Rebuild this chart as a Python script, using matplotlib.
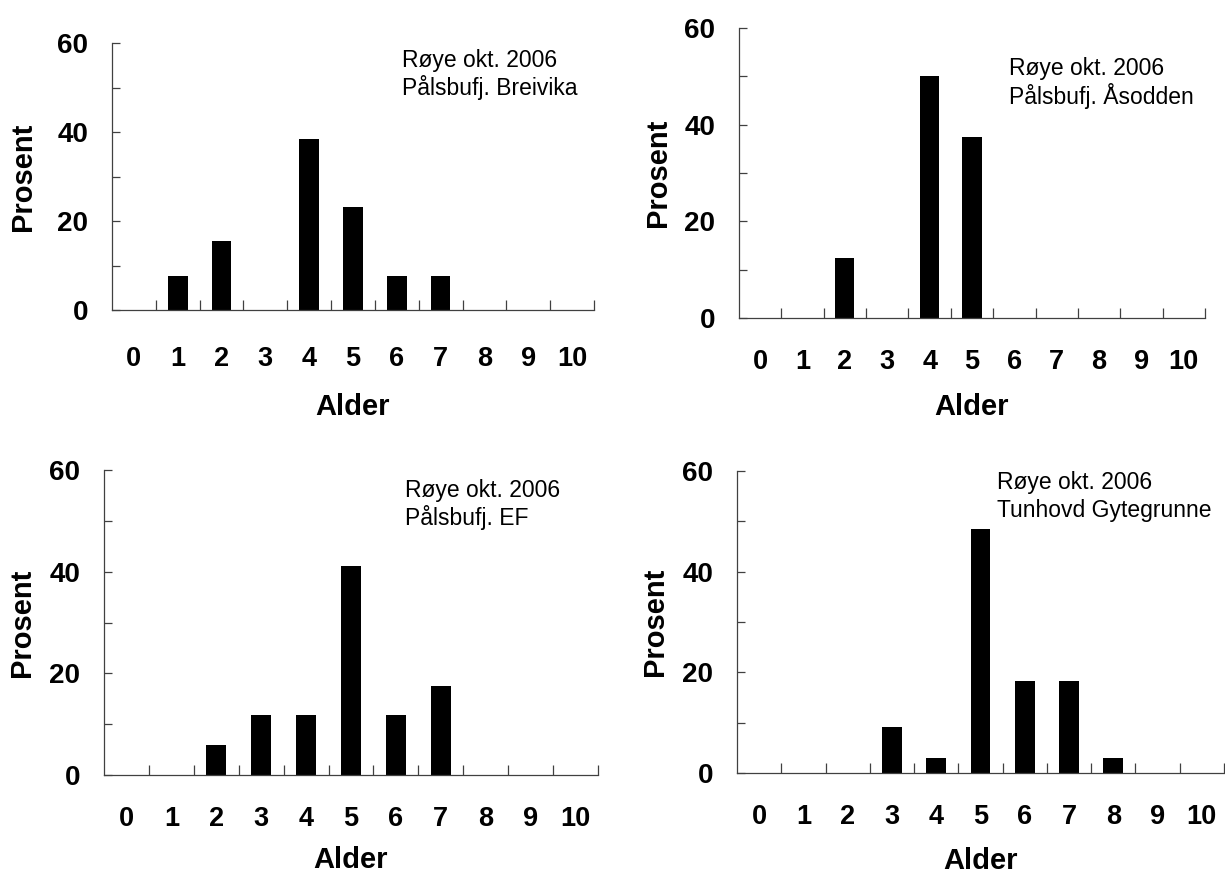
import matplotlib
matplotlib.use("Agg")
import matplotlib.pyplot as plt

plt.rcParams['font.family'] = ['Liberation Sans', 'DejaVu Sans']

# age classes and percentage per class
ages = list(range(11))
breivika = [0, 7.7, 15.4, 0, 38.5, 23.1, 7.7, 7.7, 0, 0, 0]
asodden = [0, 0, 12.5, 0, 50.0, 37.5, 0, 0, 0, 0, 0]
ef = [0, 0, 5.9, 11.8, 11.8, 41.2, 11.8, 17.6, 0, 0, 0]
tunhovd = [0, 0, 0, 9.1, 3.0, 48.5, 18.2, 18.2, 3.0, 0, 0]

line1 = "Røye okt. 2006"
places = ["Pålsbufj. Breivika", "Pålsbufj. Åsodden", "Pålsbufj. EF", "Tunhovd Gytegrunne"]

W, H = 1225, 876
fig = plt.figure(figsize=(W / 100, H / 100), dpi=100)

# pixel boxes: (left, right, top, bottom), x tick pad, Alder offset, Prosent offset, annotation x, y
panels = [
    (breivika, (112, 594, 43, 310), 26.0, 97, 89, 402, 60),
    (asodden, (739, 1205, 28, 318), 22.5, 89, 81, 1009, 68),
    (ef, (104, 598, 470, 775), 22.5, 85, 82, 405, 490),
    (tunhovd, (737, 1224, 471, 773), 22.5, 88, 82, 997, 483),
]
axis_col = '#404040'

for (vals, (l, r, t, b), xpad, xl_off, yl_off, ax_x, ax_y), place in zip(panels, places):
    ax = fig.add_axes([l / W, 1 - b / H, (r - l) / W, (b - t) / H])
    ax.bar(ages, vals, width=0.45, color='black')
    ax.set_xlim(-0.5, 10.5)
    ax.set_ylim(0, 60)
    for s in ['top', 'right']:
        ax.spines[s].set_visible(False)
    for s in ['left', 'bottom']:
        ax.spines[s].set_color(axis_col)
        ax.spines[s].set_linewidth(0.9)

    ax.set_xticks(ages)
    ax.set_xticklabels([str(a) for a in ages], fontsize=19.5, fontweight='bold')
    ax.set_xticks([a + 0.5 for a in ages], minor=True)
    ax.tick_params(axis='x', which='major', length=0, pad=xpad)
    ax.tick_params(axis='x', which='minor', direction='in', length=7.5,
                   width=0.9, color=axis_col)

    ax.set_yticks(range(0, 61, 10))
    ax.set_yticklabels(['0', '', '20', '', '40', '', '60'], fontsize=20, fontweight='bold')
    ax.tick_params(axis='y', direction='in', length=6, width=0.9,
                   color=axis_col, pad=17)

    ax.set_xlabel('Alder', fontsize=21, fontweight='bold', va='center')
    ax.xaxis.set_label_coords(0.5, -xl_off / (b - t))
    ax.set_ylabel('Prosent', fontsize=21, fontweight='bold', va='center')
    ax.yaxis.set_label_coords(-yl_off / (r - l), 0.5)

    fig.text(ax_x / W, 1 - ax_y / H, line1, fontsize=16.5, ha='left', va='center')
    fig.text(ax_x / W, 1 - (ax_y + 28) / H, place, fontsize=16.5, ha='left', va='center')

fig.savefig('out.png', dpi=100)
